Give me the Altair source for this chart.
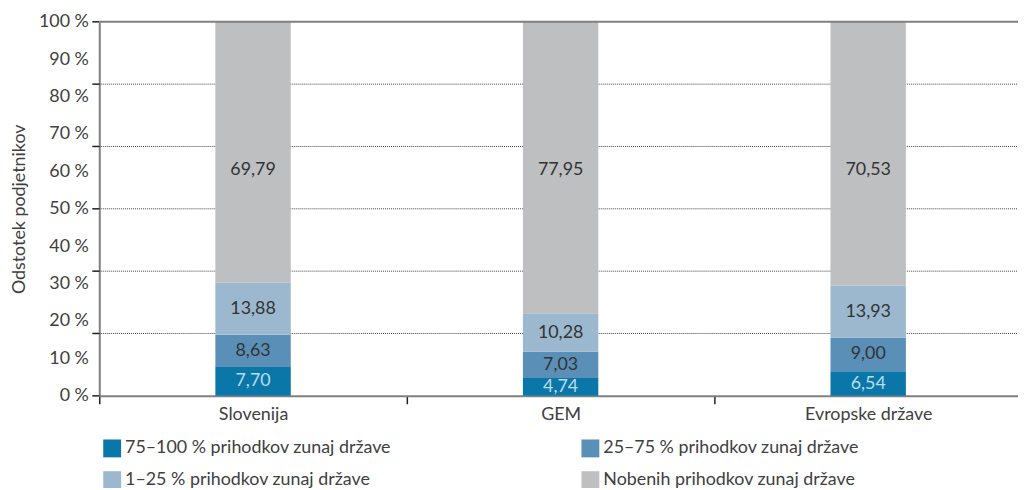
import altair as alt
import pandas as pd

# ---- data ----
categories = ["Slovenija", "GEM", "Evropske države"]
series = [
    "75–100 % prihodkov zunaj države",
    "25–75 % prihodkov zunaj države",
    "1–25 % prihodkov zunaj države",
    "Nobenih prihodkov zunaj države",
]
vals_slovenija = [7.70, 8.63, 13.88, 69.79]
vals_gem = [4.74, 7.03, 10.28, 77.95]
vals_evropa = [6.54, 9.00, 13.93, 70.53]

colors = ["#0a77a8", "#5a90b7", "#9bb8cf", "#bebfc1"]
y_label_values = [0, 10, 20, 30, 40, 50, 60, 70, 80, 90, 100]
grid_values = [16.67, 33.33, 50.0, 66.67, 83.33]
tick_values = [0, 16.67, 33.33, 50.0, 66.67, 83.33, 100]
top_value = [100]

FONT = "Lato"
TXT = "#404040"
AX = "#808080"
FS = 18
W = 930
H = 377

rows = []
for cat, vals in zip(categories, [vals_slovenija, vals_gem, vals_evropa]):
    for i, (s, v) in enumerate(zip(series, vals)):
        rows.append({"cat": cat, "series": s, "value": v, "ord": i})
df = pd.DataFrame(rows)

xscale = alt.Scale(domain=categories, paddingInner=0, paddingOuter=0)
yscale = alt.Scale(domain=[0, 100], nice=False)

x_axis = alt.Axis(
    tickBand="extent", ticks=True, tickSize=8, tickColor="#202020", tickWidth=1.5,
    domainColor=AX, domainWidth=2, labelPadding=2, labelAngle=0,
    labelFontSize=FS, labelColor=TXT, labelFont=FONT, grid=False,
)
y_axis = alt.Axis(
    values=y_label_values, ticks=False, grid=False, domainColor=AX, domainWidth=2,
    labelExpr="datum.value + ' %'", labelFontSize=FS, labelColor=TXT, labelFont=FONT,
    labelPadding=11, titleFontSize=FS, titleColor=TXT, titleFont=FONT,
    titleFontWeight="normal", titlePadding=10,
)
Y_TITLE = "Odstotek podjetnikov"


def xenc():
    return alt.X("cat:N", sort=categories, scale=xscale, title=None, axis=x_axis)


def yenc(field):
    return alt.Y(field, scale=yscale, title=Y_TITLE, axis=y_axis)


base = alt.Chart(df).transform_stack(
    stack="value", groupby=["cat"], as_=["y0", "y1"], sort=[alt.SortField("ord")]
).transform_calculate(
    mid="datum.ord == 3 ? 60.3 : (datum.y0 + datum.y1) / 2",
    lbl="replace(format(datum.value, '.2f'), '.', ',')",
)

bars = base.mark_bar(size=76).encode(
    x=xenc(),
    y=yenc("y0:Q"),
    y2="y1:Q",
    color=alt.Color(
        "series:N", scale=alt.Scale(domain=series, range=colors),
        legend=alt.Legend(
            title=None, orient="none", legendX=4, legendY=421, columns=2,
            direction="horizontal",
            symbolType="square", symbolSize=324, symbolStrokeWidth=0, symbolOpacity=1,
            labelFontSize=FS, labelColor=TXT, labelFont=FONT, labelOffset=4,
            columnPadding=191, rowPadding=14, labelLimit=400,
        ),
    ),
    order=alt.Order("ord:Q"),
)

text_light = base.transform_filter("datum.ord == 0").mark_text(
    fontSize=FS, font=FONT, color="#b9dcf0", baseline="middle"
).encode(x=xenc(), y=yenc("mid:Q"), text="lbl:N")

text_dark = base.transform_filter("datum.ord > 0").mark_text(
    fontSize=FS, font=FONT, color="#333333", baseline="middle"
).encode(x=xenc(), y=yenc("mid:Q"), text="lbl:N")

grid = alt.Chart(pd.DataFrame({"v": grid_values})).mark_rule(
    color="#404040", strokeDash=[1, 1], strokeWidth=1
).encode(y=yenc("v:Q"), x=alt.value(0), x2=alt.value(W))

ticks = alt.Chart(pd.DataFrame({"v": tick_values})).mark_rule(
    color="#202020", strokeWidth=1.5
).encode(y=yenc("v:Q"), x=alt.value(-7), x2=alt.value(0))

top = alt.Chart(pd.DataFrame({"v": top_value})).mark_rule(
    color=AX, strokeWidth=2
).encode(y=yenc("v:Q"), x=alt.value(0), x2=alt.value(W))

chart = alt.layer(grid, bars, text_light, text_dark, ticks, top).properties(
    width=W, height=H, autosize="none",
    padding={"left": 92, "top": 12, "right": -4, "bottom": 91},
).configure_view(stroke=None).configure_text(fontWeight="normal").configure_axis(
    labelFontWeight="normal"
).configure_legend(labelFontWeight="normal")

chart.save("out.html", embed_options={"renderer": "svg", "actions": False})
